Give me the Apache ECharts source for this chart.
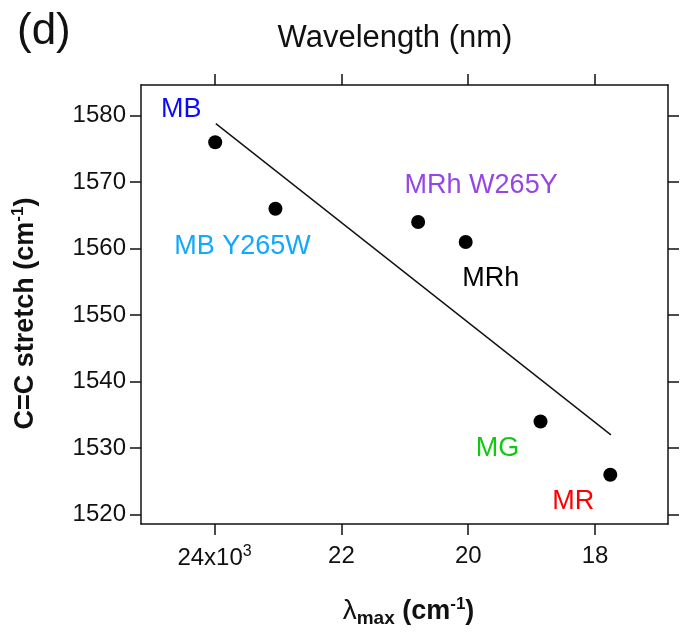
<!DOCTYPE html>
<html>
<head>
<meta charset="utf-8">
<script src="https://cdn.jsdelivr.net/npm/echarts@6/dist/echarts.min.js"></script>
<style>html,body{margin:0;padding:0;background:#fff;}#c{width:680px;height:633px;}</style>
</head>
<body>
<div id="c"></div>
<script>
// Data (x in cm^-1, y in cm^-1)
const names = ['MB', 'MB Y265W', 'MRh W265Y', 'MRh', 'MG', 'MR'];
const lambdaMax = [23990, 23040, 20790, 20040, 18860, 17760];
const ccStretch = [1576, 1566, 1564, 1561, 1534, 1526];
const labelColors = ['#0a0aff', '#12a8ff', '#9646e6', '#000000', '#12c812', '#ff0000'];
const labelOffsets = [[-34, -33], [-33, 38], [63, -36], [25, 37], [-43, 27], [-37, 27]];
const fitX = [23980, 17750];
const fitY = [1578.8, 1532.0];
const xTicks = [18000, 20000, 22000, 24000];
const yTicks = [1520, 1530, 1540, 1550, 1560, 1570, 1580];

const FONT = '"Liberation Sans", Arial, sans-serif';
const INK = '#111111';

const chart = echarts.init(document.getElementById('c'));

const xCommon = {
  type: 'value', min: 16850, max: 25160, inverse: true,
  axisLine: { show: true, onZero: false, lineStyle: { color: INK, width: 1.5 } },
  axisTick: { show: true, inside: false, length: 11, customValues: xTicks, lineStyle: { color: INK, width: 1.5 } },
  splitLine: { show: false }
};
const yCommon = {
  type: 'value', min: 1518.6, max: 1584.6,
  axisLine: { show: true, onZero: false, lineStyle: { color: INK, width: 1.5 } },
  axisTick: { show: true, inside: false, length: 11, customValues: yTicks, lineStyle: { color: INK, width: 1.5 } },
  splitLine: { show: false }
};

chart.setOption({
  animation: false,
  backgroundColor: '#ffffff',
  grid: { left: 141, right: 12, top: 85, bottom: 106, containLabel: false },
  graphic: [{
    type: 'text', left: 17, top: 10,
    style: { text: '(d)', fontSize: 44, fontFamily: FONT, fill: INK }
  }],
  xAxis: [
    Object.assign({}, xCommon, {
      position: 'bottom',
      axisLabel: {
        show: true, customValues: xTicks, margin: 20, fontSize: 24, fontFamily: FONT, color: INK,
        formatter: v => v === 24000 ? '24x10{sup|3}' : String(v / 1000),
        rich: { sup: { fontSize: 16, fontFamily: FONT, color: INK, verticalAlign: 'top', padding: [0, 0, 13, 0] } }
      },
      name: '{l|λ}{sub|max}{b| (cm}{sup|-1}{b|)}',
      nameLocation: 'middle', nameGap: 71,
      nameTextStyle: {
        padding: [0, 0, 0, 8],
        rich: {
          l: { fontSize: 28, fontFamily: FONT, color: INK },
          sub: { fontSize: 19, fontWeight: 'bold', fontFamily: FONT, color: INK, padding: [14, 0, 0, 0] },
          b: { fontSize: 27, fontWeight: 'bold', fontFamily: FONT, color: INK },
          sup: { fontSize: 17, fontWeight: 'bold', fontFamily: FONT, color: INK, padding: [0, 0, 15, 0] }
        }
      }
    }),
    Object.assign({}, xCommon, {
      position: 'top',
      axisLabel: { show: false },
      name: 'Wavelength (nm)', nameLocation: 'middle', nameGap: 31,
      nameTextStyle: { fontSize: 31, fontFamily: FONT, color: INK, padding: [0, 19, 0, 0] }
    })
  ],
  yAxis: [
    Object.assign({}, yCommon, {
      position: 'left',
      axisLabel: {
        show: true, customValues: yTicks, margin: 15, fontSize: 24, fontFamily: FONT, color: INK,
        formatter: v => String(v)
      },
      name: '{b|C=C stretch (cm}{sup|-1}{b|)}',
      nameLocation: 'middle', nameGap: 99, nameRotate: 90,
      nameTextStyle: {
        padding: [0, 18, 0, 0],
        rich: {
          b: { fontSize: 27, fontWeight: 'bold', fontFamily: FONT, color: INK },
          sup: { fontSize: 17, fontWeight: 'bold', fontFamily: FONT, color: INK, padding: [0, 0, 15, 0] }
        }
      }
    }),
    Object.assign({}, yCommon, {
      position: 'right',
      axisLabel: { show: false }
    })
  ],
  series: [
    {
      type: 'line', xAxisIndex: 0, yAxisIndex: 0,
      data: fitX.map((x, i) => [x, fitY[i]]),
      symbol: 'none', lineStyle: { color: INK, width: 1.4 }, silent: true, z: 2
    },
    {
      type: 'scatter', xAxisIndex: 0, yAxisIndex: 0,
      symbol: 'circle', symbolSize: 14,
      itemStyle: { color: '#000000', opacity: 1 }, z: 3,
      data: names.map((n, i) => ({
        value: [lambdaMax[i], ccStretch[i]],
        label: {
          show: true, position: 'inside', offset: labelOffsets[i],
          formatter: n, fontSize: 27, fontFamily: FONT, color: labelColors[i], opacity: 1
        }
      }))
    }
  ]
});
</script>
</body>
</html>
